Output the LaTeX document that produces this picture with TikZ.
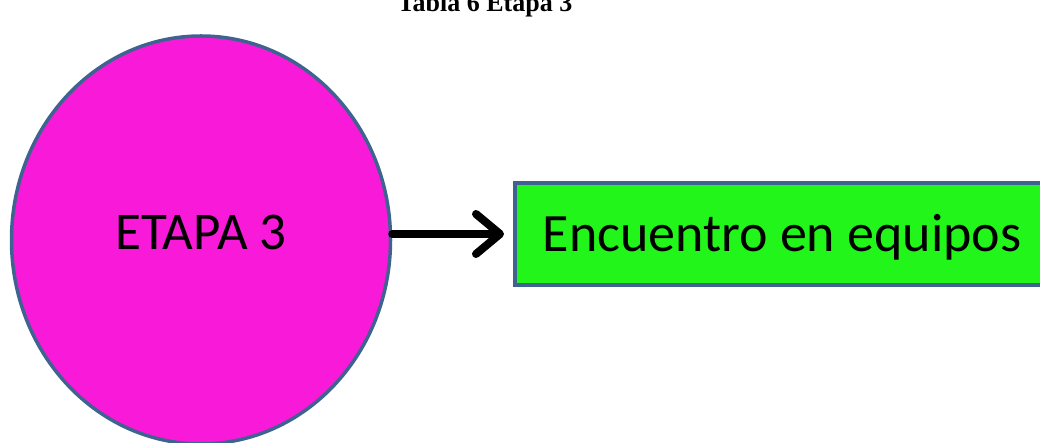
\documentclass[tikz,border=0pt]{standalone}
\usepackage{fontspec}
\setmainfont{Carlito}
\newfontfamily\titlefont{Liberation Serif}
\usetikzlibrary{shapes.geometric,arrows.meta}
\definecolor{etapapink}{HTML}{F81AD8}
\definecolor{etapagreen}{HTML}{22F51A}
\definecolor{etapaedge}{HTML}{3F6391}
\begin{document}
\begin{tikzpicture}[x=1pt,y=1pt,
    etapa/.style={ellipse,draw=etapaedge,line width=3.5pt,fill=etapapink,
        minimum width=379pt,minimum height=408pt,inner sep=0pt,
        text height=34pt,text depth=14pt,
        font=\fontsize{53}{64}\selectfont},
    paso/.style={rectangle,draw=etapaedge,line width=3.5pt,fill=etapagreen,
        minimum height=102pt,text width=500pt,align=flush left,inner xsep=28pt,
        text height=35pt,text depth=0pt,
        font=\fontsize{54}{64}\selectfont},
    flecha/.style={line width=8pt,line cap=round,
        -{Straight Barb[length=24pt,width=40pt,line cap=round,line join=round]}}]
    \useasboundingbox (0,0) rectangle (1040,443);

    % Titulo
    \node[anchor=base,font=\titlefont\bfseries\fontsize{26}{30}\selectfont] (titulo) at (485,431) {Tabla 6 Etapa 3};

    % Etapa y paso
    \node[etapa] (etapa3) at (201,203) {ETAPA 3};
    \node[paso,anchor=west] (encuentro) at (513,209) {Encuentro en equipos};

    \draw[flecha,shorten >=9pt] (etapa3.east |- encuentro.west) -- (encuentro.west);
\end{tikzpicture}
\end{document}
